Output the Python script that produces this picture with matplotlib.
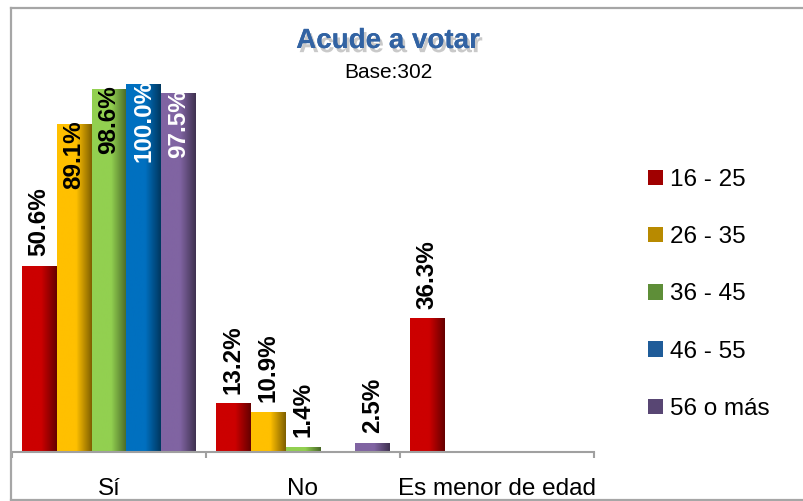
import numpy as np
import matplotlib
matplotlib.use('Agg')
import matplotlib.pyplot as plt
import matplotlib.patheffects as pe
from matplotlib.colors import to_rgb
from matplotlib.patches import Patch
from matplotlib.lines import Line2D

plt.rcParams['font.family'] = ['Liberation Sans', 'DejaVu Sans']

categories = ['Sí', 'No', 'Es menor de edad']
series = ['16 - 25', '26 - 35', '36 - 45', '46 - 55', '56 o más']

# nan = no hay barra
v_16_25 = [50.6, 13.2, 36.3]
v_26_35 = [89.1, 10.9, np.nan]
v_36_45 = [98.6, 1.4, np.nan]
v_46_55 = [100.0, np.nan, np.nan]
v_56_mas = [97.5, 2.5, np.nan]
all_values = [v_16_25, v_26_35, v_36_45, v_46_55, v_56_mas]

colors = ['#CC0000', '#FFC000', '#92D050', '#0070C0', '#8064A2']
legend_colors = ['#A00000', '#B88A00', '#5E8E38', '#1F5C99', '#584673']
inside_text = ['black', 'black', 'black', 'white', 'white']

W, H = 804, 501
fig = plt.figure(figsize=(W / 100, H / 100), dpi=100)
ax_top_px, ax_bot_px = 70, 452
ax = fig.add_axes([12 / W, (H - ax_bot_px) / H, 582 / W, (ax_bot_px - ax_top_px) / H])
ymax = (ax_bot_px - ax_top_px) / 368 * 100
ax.set_xlim(-0.5, 2.5)
ax.set_ylim(0, ymax)

w = 0.18
x = np.arange(len(categories))


def gradient_fill(patch, color):
    # sombreado horizontal tipo Excel: mas oscuro hacia la derecha
    bb = patch.get_bbox()
    t = np.linspace(0, 1, 64)
    f = np.where(t < 0.55, 1.0, 1.0 - (t - 0.55) / 0.45 * 0.5)
    rgb = np.array(to_rgb(color))
    img = (rgb[None, :] * f[:, None])[None, :, :]
    im = ax.imshow(img, extent=[bb.x0, bb.x1, bb.y0, bb.y1], aspect='auto',
                   zorder=2, interpolation='bilinear')
    im.set_clip_path(patch)


label_room = 26
for i, vals in enumerate(all_values):
    vals = np.array(vals, dtype=float)
    ok = ~np.isnan(vals)
    xs = x[ok] + (i - 2) * w
    bars = ax.bar(xs, vals[ok], w, color=colors[i], edgecolor='none', zorder=1)
    for p in bars:
        gradient_fill(p, colors[i])
    for xi, v in zip(xs, vals[ok]):
        if v + label_room > ymax:
            ax.annotate(f'{v:.1f}%', (xi, v), xytext=(0, 3), textcoords='offset points',
                        rotation=90, ha='center', va='top', fontsize=17.5, fontweight='bold',
                        color=inside_text[i], zorder=5, annotation_clip=False)
        else:
            ax.annotate(f'{v:.1f}%', (xi, v), xytext=(0, 7), textcoords='offset points',
                        rotation=90, ha='center', va='bottom', fontsize=17.5, fontweight='bold',
                        color='black', zorder=5, annotation_clip=False)

ax.set_ylim(0, ymax)
ax.set_xlim(-0.5, 2.5)
ax.set_yticks([])
ax.set_xticks([-0.5, 0.5, 1.5, 2.5])
ax.set_xticklabels([])
ax.set_xticks(x, minor=True)
ax.set_xticklabels(categories, minor=True, fontsize=17.5)
ax.tick_params(axis='x', which='major', length=4, width=1.5, color='#A0A0A0', direction='out')
ax.tick_params(axis='x', which='minor', length=0, pad=18.5)
for s in ['top', 'right', 'left']:
    ax.spines[s].set_visible(False)
ax.spines['bottom'].set_color('#A0A0A0')
ax.spines['bottom'].set_linewidth(1.5)
ax.patch.set_alpha(0)

# marco del grafico
frame = dict(transform=fig.transFigure, color='#A6A6A6', lw=1.6)
fig.add_artist(Line2D([11.5 / W, 11.5 / W], [1 - 8 / H, 1 - 499.5 / H], **frame))
fig.add_artist(Line2D([11.5 / W, 1], [1 - 8 / H, 1 - 8 / H], **frame))
fig.add_artist(Line2D([11.5 / W, 1], [1 - 499.5 / H, 1 - 499.5 / H], **frame))

fig.text(388 / W, 1 - 41 / H, 'Acude a votar', ha='center', va='center', fontsize=20,
         fontweight='bold', color='#3263A3',
         path_effects=[pe.withSimplePatchShadow(offset=(2, -3), shadow_rgbFace='#888888', alpha=0.45),
                       pe.Normal()])
fig.text(388 / W, 1 - 72 / H, 'Base:302', ha='center', va='center', fontsize=15)

handles = [Patch(facecolor=c, edgecolor='none') for c in legend_colors]
ax.legend(handles, series, loc='center left', bbox_to_anchor=(636 / W, 1 - 294.5 / H),
          bbox_transform=fig.transFigure, frameon=False, fontsize=17.5, handlelength=0.6,
          handleheight=0.6, handletextpad=0.3, labelspacing=1.45, borderpad=0)

fig.savefig('out.png', dpi=100)
